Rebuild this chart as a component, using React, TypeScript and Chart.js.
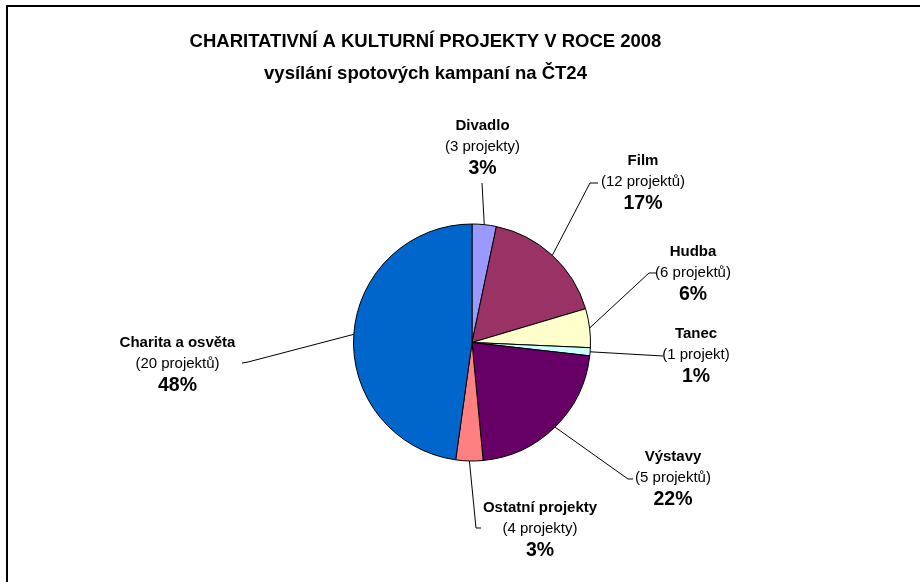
import React, { useEffect, useRef } from "react";
import { Chart, registerables } from "chart.js";

Chart.register(...registerables);

// ---- data ----
const titleLines = ["CHARITATIVNÍ A KULTURNÍ PROJEKTY V ROCE 2008", "vysílání spotových kampaní na ČT24"];
const categories = ["Divadlo", "Film", "Hudba", "Tanec", "Výstavy", "Ostatní projekty", "Charita a osvěta"];
const projectCounts = ["(3 projekty)", "(12 projektů)", "(6 projektů)", "(1 projekt)", "(5 projektů)", "(4 projekty)", "(20 projektů)"];
const shares = [3.3, 17.1, 5.3, 1.1, 21.7, 3.7, 47.8];
const percentLabels = ["3%", "17%", "6%", "1%", "22%", "3%", "48%"];
const colors = ["#9999FF", "#993366", "#FFFFCC", "#CCFFFF", "#660066", "#FF8080", "#0066CC"];

// ---- label layout (text centre x, y of first line, leader elbow points) ----
const labelLayout = [
  { x: 482.5, y: 126, path: [[482, 183]] },
  { x: 643, y: 161, path: [[590, 183], [598, 183]] },
  { x: 693, y: 252, path: [[649, 273], [656, 273]] },
  { x: 696, y: 334, path: [[663, 356]] },
  { x: 673, y: 457, path: [[628, 479], [633, 479]] },
  { x: 540, y: 508, path: [[476, 528], [481, 528]] },
  { x: 177.5, y: 343, path: [[248, 362], [242, 363]] },
];

const FONT = '"Liberation Sans", Arial, sans-serif';

const labelsPlugin = {
  id: "customLabels",
  afterDraw(chart: any) {
    const ctx = chart.ctx as CanvasRenderingContext2D;
    ctx.save();
    // border (cropped frame)
    ctx.fillStyle = "#000";
    ctx.fillRect(6, 5, 2, 600);
    ctx.fillRect(6, 5, 940, 2);

    // title
    ctx.textAlign = "center";
    ctx.textBaseline = "middle";
    ctx.fillStyle = "#000";
    ctx.font = `bold 18.5px ${FONT}`;
    ctx.fillText(titleLines[0], 425.5, 41.5);
    ctx.fillText(titleLines[1], 425.5, 73.5);

    const meta = chart.getDatasetMeta(0);
    meta.data.forEach((arc: any, i: number) => {
      const lay = labelLayout[i];
      const mid = (arc.startAngle + arc.endAngle) / 2;
      const ex = arc.x + Math.cos(mid) * arc.outerRadius;
      const ey = arc.y + Math.sin(mid) * arc.outerRadius;
      ctx.strokeStyle = "#000";
      ctx.lineWidth = 1;
      ctx.beginPath();
      ctx.moveTo(ex, ey);
      lay.path.forEach((p) => ctx.lineTo(p[0], p[1]));
      ctx.stroke();

      ctx.fillStyle = "#000";
      ctx.font = `bold 15px ${FONT}`;
      ctx.fillText(categories[i], lay.x, lay.y);
      ctx.font = `15px ${FONT}`;
      ctx.fillText(projectCounts[i], lay.x, lay.y + 21);
      ctx.font = `bold 19.5px ${FONT}`;
      ctx.fillText(percentLabels[i], lay.x, lay.y + 43);
    });
    ctx.restore();
  },
};

export default function App() {
  const ref = useRef<HTMLCanvasElement | null>(null);
  useEffect(() => {
    if (!ref.current) return;
    const chart = new Chart(ref.current, {
      type: "pie",
      data: {
        labels: categories,
        datasets: [
          {
            data: shares,
            backgroundColor: colors,
            borderColor: "#000",
            borderWidth: 1,
          },
        ],
      },
      options: {
        animation: false,
        responsive: false,
        devicePixelRatio: 1,
        layout: { padding: { left: 353, right: 329, top: 223.5, bottom: 120.5 } },
        plugins: {
          legend: { display: false },
          tooltip: { enabled: false },
          title: { display: false },
        },
      },
      plugins: [labelsPlugin],
    });
    return () => chart.destroy();
  }, []);
  return (
    <div style={{ position: "absolute", left: 0, top: 0, width: 920, height: 582, background: "#fff" }}>
      <canvas ref={ref} width={920} height={582} style={{ width: 920, height: 582, display: "block" }} />
    </div>
  );
}
